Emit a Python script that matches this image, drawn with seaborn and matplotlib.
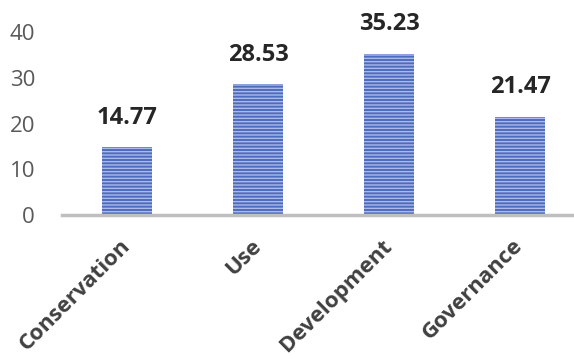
import matplotlib
matplotlib.use("Agg")
import matplotlib.pyplot as plt
import seaborn as sns
import pandas as pd

categories = ["Conservation", "Use", "Development", "Governance"]
values = [14.77, 28.53, 35.23, 21.47]
yticks = [0, 10, 20, 30, 40]

sns.set_theme(style="white")
plt.rcParams['font.family'] = ['Open Sans', 'DejaVu Sans']
plt.rcParams['hatch.linewidth'] = 1.0

df = pd.DataFrame({"category": categories, "value": values})

fig = plt.figure(figsize=(5.74, 3.59), dpi=100)
ax = fig.add_axes([61.5/574, 1-215/359, 1-61.5/574, (215-32)/359])

sns.barplot(data=df, x="category", y="value", ax=ax, color="#4f6bbd",
            width=0.38, saturation=1)
for p in ax.patches:
    p.set_hatch("-----")
    p.set_edgecolor("#a9bbec")
    p.set_linewidth(0)

for i, v in enumerate(values):
    ax.annotate(f"{v:.2f}", (i, v), xytext=(0, 17), textcoords="offset points",
                ha="center", va="baseline", fontsize=17, fontweight="bold",
                color="#262626", annotation_clip=False)

ax.set_ylim(0, 40)
ax.set_xlim(-0.5, (574-61.5)/131 - 0.5)
ax.set_yticks(yticks)
ax.set_yticklabels([str(t) for t in yticks], fontsize=16, color="#595959")
ax.tick_params(axis="y", length=0, pad=19)
ax.tick_params(axis="x", length=0, pad=20)
ax.set_xticks(range(len(categories)))
ax.set_xticklabels(categories, rotation=45, ha="right", va="center",
                   rotation_mode="anchor", fontsize=16, fontweight="bold",
                   color="#404040")
ax.set_xlabel("")
ax.set_ylabel("")
for s in ["top", "right", "left"]:
    ax.spines[s].set_visible(False)
ax.spines["bottom"].set_color("#bfbfbf")
ax.spines["bottom"].set_linewidth(2.5)
ax.set_facecolor("white")

fig.savefig("out.png", dpi=100)
